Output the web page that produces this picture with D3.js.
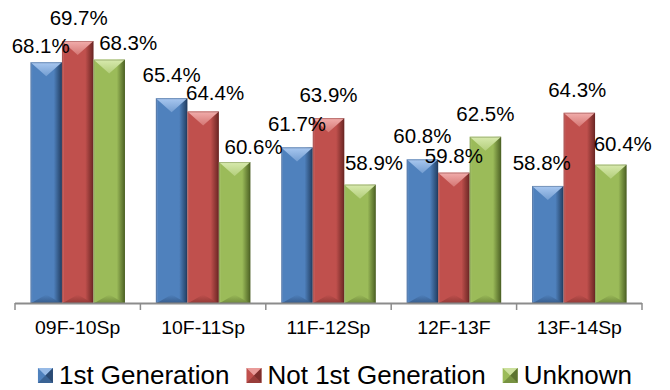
<!DOCTYPE html>
<html>
<head>
<meta charset="utf-8">
<script src="https://cdn.jsdelivr.net/npm/d3@7"></script>
<style>
  html, body { margin: 0; padding: 0; background: #fff; }
  svg { display: block; font-family: "Liberation Sans", Arial, sans-serif; }
</style>
</head>
<body>
<svg id="chart" width="670" height="390"></svg>
<script>
// Retention rate by generation status, per academic year
const categories = ["09F-10Sp", "10F-11Sp", "11F-12Sp", "12F-13F", "13F-14Sp"];
const seriesNames = ["1st Generation", "Not 1st Generation", "Unknown"];
const firstGen = [68.1, 65.4, 61.7, 60.8, 58.8];
const notFirstGen = [69.7, 64.4, 63.9, 59.8, 64.3];
const unknownGen = [68.3, 60.6, 58.9, 62.5, 60.4];
const yDomain = [50, 70];

// Manual label nudges [dx, dy] per series / category to keep labels apart
const labelNudge = [
  [[-5.5, 7], [0, 0], [0, 0], [0, 0], [-6, 0]],
  [[1, 0], [12, 4.5], [0, 0], [0, 6], [-2, 0]],
  [[19, 6], [19, 8], [14, 1], [0, 0], [12, 2]]
];

const seriesValues = [firstGen, notFirstGen, unknownGen];
const palette = [
  { base: "#4F81BD", light: "#A9C8F0", edge: "#7FA3D4", dark: "#223D61" },
  { base: "#C0504D", light: "#F2AEAC", edge: "#D27B79", dark: "#6B2624" },
  { base: "#9BBB59", light: "#D8EAAE", edge: "#B3CD7E", dark: "#4C6124" }
];

const svg = d3.select("#chart");
const defs = svg.append("defs");

palette.forEach((c, i) => {
  const g = defs.append("linearGradient").attr("id", "body" + i)
    .attr("x1", 0).attr("x2", 1).attr("y1", 0).attr("y2", 0);
  g.append("stop").attr("offset", 0).attr("stop-color", c.edge);
  g.append("stop").attr("offset", 0.07).attr("stop-color", c.base);
  g.append("stop").attr("offset", 0.74).attr("stop-color", c.base);
  g.append("stop").attr("offset", 0.88).attr("stop-color", d3.interpolateRgb(c.base, c.dark)(0.55));
  g.append("stop").attr("offset", 1).attr("stop-color", c.dark);

  const t = defs.append("linearGradient").attr("id", "top" + i)
    .attr("x1", 0).attr("x2", 0).attr("y1", 0).attr("y2", 1);
  t.append("stop").attr("offset", 0).attr("stop-color", c.light);
  t.append("stop").attr("offset", 1).attr("stop-color", d3.interpolateRgb(c.light, c.base)(0.6));

  const b = defs.append("linearGradient").attr("id", "bot" + i)
    .attr("x1", 0).attr("x2", 0).attr("y1", 0).attr("y2", 1);
  b.append("stop").attr("offset", 0).attr("stop-color", c.base);
  b.append("stop").attr("offset", 1).attr("stop-color", d3.interpolateRgb(c.base, c.dark)(0.6));
});

const x = d3.scaleBand().domain(categories).range([15, 642])
  .paddingInner(0.2464).paddingOuter(0.1232);
const xs = d3.scaleBand().domain(d3.range(seriesNames.length)).range([0, x.bandwidth()]);
const y = d3.scaleLinear().domain(yDomain).range([303, 37]);

const rows = [];
categories.forEach((cat, ci) => {
  seriesValues.forEach((vals, si) => {
    rows.push({ cat, ci, si, v: vals[ci] });
  });
});

svg.append("g").selectAll("g.bar").data(rows).join("g").attr("class", "bar")
  .each(function (d) {
    const g = d3.select(this);
    const x0 = x(d.cat) + xs(d.si);
    const w = xs.bandwidth();
    const x1 = x0 + w;
    const top = y(d.v);
    const bottom = y(yDomain[0]);
    const cx = x0 + w / 2;
    const depth = Math.min(14, w / 2);
    g.append("rect").attr("x", x0).attr("y", top).attr("width", w).attr("height", bottom - top)
      .attr("fill", `url(#body${d.si})`);
    g.append("path")
      .attr("d", `M${x0},${top}L${x1},${top}L${cx},${top + depth}Z`)
      .attr("fill", `url(#top${d.si})`);
    g.append("path")
      .attr("d", `M${x0 + 1},${bottom}L${x1 - 1},${bottom}L${cx},${bottom - depth * 0.6}Z`)
      .attr("fill", `url(#bot${d.si})`).attr("opacity", 0.85);
    g.append("rect").attr("x", x0 + 0.5).attr("y", top + 0.5).attr("width", w - 1)
      .attr("height", bottom - top - 1)
      .attr("fill", "none").attr("stroke", palette[d.si].dark).attr("stroke-opacity", 0.35);
  });

// Value labels
svg.append("g").selectAll("text").data(rows).join("text")
  .attr("x", d => x(d.cat) + xs(d.si) + xs.bandwidth() / 2 + labelNudge[d.si][d.ci][0])
  .attr("y", d => y(d.v) - 16 + labelNudge[d.si][d.ci][1])
  .attr("text-anchor", "middle")
  .attr("font-size", 20.5)
  .attr("fill", "#000")
  .text(d => d.v.toFixed(1) + "%");

// Category axis
const axis = svg.append("g").attr("transform", `translate(0,${y(yDomain[0])})`)
  .call(d3.axisBottom(x).tickSize(0).tickFormat(""));
axis.select(".domain").remove();
axis.append("line").attr("x1", 15).attr("x2", 642).attr("y1", 0.5).attr("y2", 0.5)
  .attr("stroke", "#8C8C8C").attr("stroke-width", 2);
const edges = categories.map(c => x(c) - x.step() * x.paddingInner() / 2).concat([642]);
axis.selectAll("line.tk").data(edges).join("line").attr("class", "tk")
  .attr("x1", d => d).attr("x2", d => d).attr("y1", 0).attr("y2", 7)
  .attr("stroke", "#8C8C8C").attr("stroke-width", 1.5);
svg.append("g").selectAll("text").data(categories).join("text")
  .attr("transform", d => `translate(${x(d) + x.bandwidth() / 2},334) scale(1.05,1)`)
  .attr("text-anchor", "middle").attr("font-size", 18.5).attr("fill", "#000")
  .text(d => d);

// Legend
const legend = svg.append("g");
const items = legend.selectAll("g").data(seriesNames).join("g");
items.each(function (name, i) {
  const g = d3.select(this);
  const c = palette[i];
  const s = 15;
  g.append("rect").attr("x", 0).attr("y", -s).attr("width", s).attr("height", s).attr("fill", c.base);
  g.append("path").attr("d", `M0,${-s}L${s},${-s}L${s / 2},${-s / 2}Z`).attr("fill", c.light).attr("opacity", 0.8);
  g.append("path").attr("d", `M${s},${-s}L${s},0L${s / 2},${-s / 2}Z`).attr("fill", c.dark).attr("opacity", 0.8);
  g.append("path").attr("d", `M0,0L${s},0L${s / 2},${-s / 2}Z`).attr("fill", c.dark).attr("opacity", 0.45);
  g.append("text").attr("transform", `translate(${s + 6},1) scale(1.04,1)`)
    .attr("font-size", 25).attr("fill", "#000").text(name);
});
const widths = [];
items.each(function () { widths.push(this.getBBox().width); });
const gap = 17;
const total = d3.sum(widths) + gap * (widths.length - 1);
let cursor = 335 - total / 2;
items.attr("transform", (d, i) => {
  const tx = cursor;
  cursor += widths[i] + gap;
  return `translate(${tx},383)`;
});
</script>
</body>
</html>
